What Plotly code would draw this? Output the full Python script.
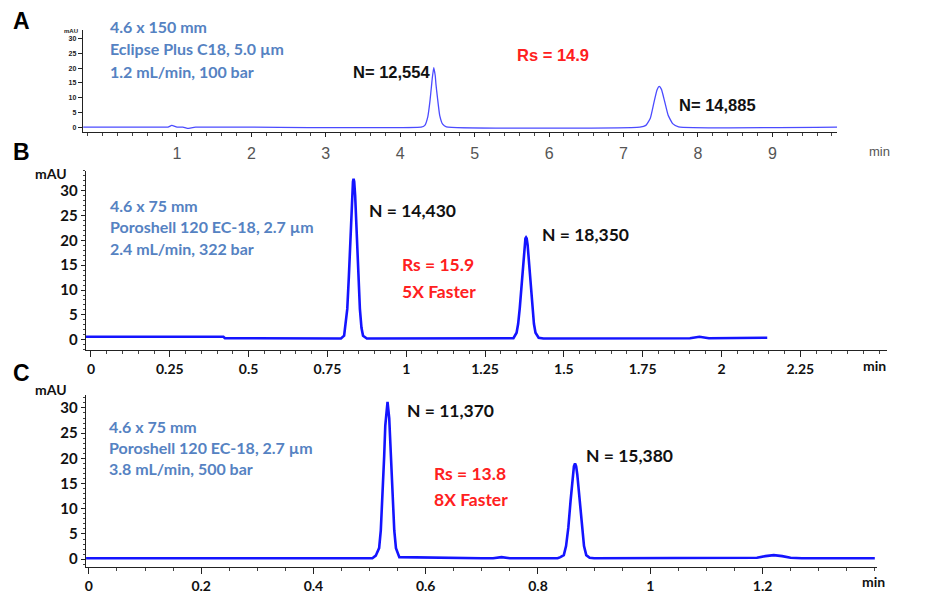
import plotly.graph_objects as go

W, H = 930, 594
def px(x): return x / W
def py(y): return 1 - y / H

# ---------------- data ----------------
# Panel A: 4.6 x 150 mm, Eclipse Plus C18
A_time = [-0.26, 0.80, 0.88, 0.93, 1.00, 1.08, 1.14, 1.25, 4.28, 4.33, 4.37, 4.40, 4.42, 4.43, 4.45, 4.47,
          4.48, 4.50, 4.53, 4.57, 4.62, 7.22, 7.30, 7.36, 7.41, 7.45, 7.48, 7.51, 7.55, 7.60, 7.66, 7.74, 9.87]
A_abs = [0.0, 0.0, 0.0, 0.6, 0.0, 0.0, -0.4, 0.0, 0.0, 0.6, 3.5, 9.0, 14.0, 16.5, 20.2, 17.5,
         14.5, 10.0, 4.0, 1.0, 0.1, 0.0, 0.6, 3.0, 8.5, 12.6, 13.8, 12.8, 9.0, 4.0, 1.2, 0.1, 0.0]

# Panel B: 4.6 x 75 mm, Poroshell 120, 2.4 mL/min
B_time = [-0.016, 0.42, 0.425, 0.78, 0.793, 0.803, 0.813, 0.818, 0.823, 0.828, 0.831, 0.833, 0.835, 0.838, 0.843,
          0.848, 0.853, 0.858, 0.863, 0.875, 1.33, 1.340, 1.350, 1.355, 1.360, 1.365, 1.370, 1.375, 1.378, 1.380,
          1.382, 1.385, 1.390, 1.395, 1.400, 1.405, 1.410, 1.420, 1.435, 1.90, 1.93, 1.96, 2.145]
B_abs = [0.6, 0.6, 0.3, 0.25, 0.25, 0.8, 6.2, 12.7, 21.3, 29.0, 31.8, 32.4, 31.8, 29.0, 21.3,
         12.7, 6.2, 2.4, 0.8, 0.25, 0.25, 0.3, 1.4, 3.2, 6.3, 10.6, 15.3, 19.1, 20.4, 20.6,
         20.4, 19.1, 15.3, 10.6, 6.3, 3.2, 1.4, 0.4, 0.25, 0.3, 0.6, 0.3, 0.4]

# Panel C: 4.6 x 75 mm, Poroshell 120, 3.8 mL/min
C_time = [-0.005, 0.50, 0.505, 0.511, 0.517, 0.520, 0.523, 0.526, 0.528, 0.529, 0.530, 0.532, 0.535, 0.538, 0.541,
          0.544, 0.547, 0.553, 0.70, 0.72, 0.735, 0.75, 0.77, 0.835, 0.840, 0.846, 0.850, 0.854, 0.858,
          0.862, 0.864, 0.866, 0.868, 0.870, 0.874, 0.878, 0.882, 0.886, 0.892, 0.90, 1.17, 1.19, 1.205, 1.22, 1.235,
          1.25, 1.27, 1.40]
C_abs = [0.2, 0.2, 0.2, 0.7, 2.2, 5.7, 12.0, 20.4, 26.5, 28.0, 29.5, 31.2, 28.0, 20.4, 12.0,
         5.7, 2.2, 0.4, 0.2, 0.2, 0.4, 0.2, 0.2, 0.2, 0.4, 0.8, 2.6, 6.2, 11.5,
         16.8, 18.4, 19.0, 18.4, 16.8, 11.5, 6.2, 2.6, 0.8, 0.3, 0.2, 0.2, 0.3, 0.6, 0.8, 0.6,
         0.3, 0.2, 0.2]

A_ticks = [1, 2, 3, 4, 5, 6, 7, 8, 9]
B_ticks = [0, 0.25, 0.5, 0.75, 1, 1.25, 1.5, 1.75, 2, 2.25]
C_ticks = [0, 0.2, 0.4, 0.6, 0.8, 1, 1.2]
Y_ticks = [0, 5, 10, 15, 20, 25, 30]

A_info = ["4.6 x 150 mm", "Eclipse Plus C18, 5.0 µm", "1.2 mL/min, 100 bar"]
B_info = ["4.6 x 75 mm", "Poroshell 120 EC-18, 2.7 µm", "2.4 mL/min, 322 bar"]
C_info = ["4.6 x 75 mm", "Poroshell 120 EC-18, 2.7 µm", "3.8 mL/min, 500 bar"]
A_notes = ["N= 12,554", "N= 14,885", "Rs = 14.9"]
B_notes = ["N = 14,430", "N = 18,350", "Rs = 15.9", "5X Faster"]
C_notes = ["N = 11,370", "N = 15,380", "Rs = 13.8", "8X Faster"]

# ---------------- figure ----------------
fig = go.Figure()
fig.add_trace(go.Scatter(x=A_time, y=A_abs, xaxis="x", yaxis="y", mode="lines",
                         line=dict(color="#4b4bff", width=1.3, shape="spline", smoothing=0.4),
                         showlegend=False, hoverinfo="skip"))
fig.add_trace(go.Scatter(x=B_time, y=B_abs, xaxis="x2", yaxis="y2", mode="lines",
                         line=dict(color="#1414ff", width=2.6, shape="linear"),
                         showlegend=False, hoverinfo="skip"))
fig.add_trace(go.Scatter(x=C_time, y=C_abs, xaxis="x3", yaxis="y3", mode="lines",
                         line=dict(color="#1414ff", width=2.6, shape="linear"),
                         showlegend=False, hoverinfo="skip"))

BLUE = "#5582c2"
RED = "#ff2020"
CAL = "Lato"
ARI = "Liberation Sans, Arial"

def xax(dom, rng, tickvals, minor, font, anchor, ticklen=5, standoff=0):
    return dict(domain=dom, range=rng, tickvals=tickvals, anchor=anchor,
                showline=True, linecolor="#222", linewidth=1.3, ticks="outside",
                ticklen=ticklen, tickwidth=1.2, tickcolor="#222", showgrid=False, zeroline=False,
                ticklabelstandoff=standoff,
                tickfont=font, minor=dict(dtick=minor, tick0=0, ticks="outside", ticklen=3,
                                          tickcolor="#444", showgrid=False))

def yax(dom, rng, font, anchor, minor=True):
    d = dict(domain=dom, range=rng, tickvals=Y_ticks, anchor=anchor,
             showline=True, linecolor="#222", linewidth=1.3, ticks="outside",
             ticklen=4, tickwidth=1, tickcolor="#222", showgrid=False, zeroline=False,
             tickfont=font)
    if minor:
        d["minor"] = dict(dtick=1, tick0=0, ticks="outside", ticklen=2, tickcolor="#444", showgrid=False)
    return d

fig.update_layout(
    width=W, height=H, autosize=False,
    margin=dict(l=0, r=0, t=0, b=0),
    paper_bgcolor="white", plot_bgcolor="white",
    xaxis=xax([px(82), px(837)], [-0.264, 9.87], A_ticks, 0.2,
              dict(family=ARI, size=16, color="#555"), "y", ticklen=4, standoff=3),
    yaxis=yax([py(133), py(30)], [-1.68, 33], dict(family=ARI, size=7, color="#222", weight=700), "x", minor=False),
    xaxis2=xax([px(85), px(887)], [-0.016, 2.525], B_ticks, 0.05,
               dict(family=CAL, size=14, color="#111", weight=700), "y2", ticklen=6),
    yaxis2=yax([py(352), py(172)], [-2, 34], dict(family=CAL, size=15, color="#111", weight=700), "x2"),
    xaxis3=xax([px(85), px(877)], [-0.0053, 1.404], C_ticks, 0.05,
               dict(family=CAL, size=14, color="#111", weight=700), "y3", ticklen=6),
    yaxis3=yax([py(571), py(398)], [-1.58, 32.5], dict(family=CAL, size=15, color="#111", weight=700), "x3"),
)

anns = []
def note(text, x, y, size, color, family, weight=400, xanchor="left"):
    anns.append(dict(text=text, x=px(x), y=py(y), xref="paper", yref="paper",
                     xanchor=xanchor, yanchor="middle", showarrow=False,
                     font=dict(family=family, size=size, color=color, weight=weight)))

# panel letters
note("A", 10, 21, 23, "#000", ARI, 700)
note("B", 10, 153, 23, "#000", ARI, 700)
note("C", 10, 376, 23, "#000", ARI, 700)

# panel A
note("mAU", 79, 31, 6, "#222", ARI, 700, xanchor="right")
for t, yy in zip(A_info, [27, 49, 72]):
    note(t, 107, yy, 16, BLUE, CAL, 700)
note(A_notes[0], 350, 72, 16.5, "#111", ARI, 700)
note(A_notes[1], 677, 106, 16.5, "#111", ARI, 700)
note(A_notes[2], 515, 55, 16.5, RED, ARI, 700)
note("min", 867, 153, 13, "#555", ARI, 400)

# panel B
note("mAU", 32, 175, 14, "#111", CAL, 700)
for t, yy in zip(B_info, [207, 228, 250]):
    note(t, 107, yy, 16, BLUE, CAL, 700)
note(B_notes[0], 366, 212, 17.5, "#111", CAL, 700)
note(B_notes[1], 540, 236, 17.5, "#111", CAL, 700)
note(B_notes[2], 399, 266, 17.5, RED, CAL, 700)
note(B_notes[3], 399, 293, 17.5, RED, CAL, 700)
note("min", 861, 368, 14, "#111", CAL, 700)

# panel C
note("mAU", 32, 392, 14, "#111", CAL, 700)
for t, yy in zip(C_info, [429, 451, 472]):
    note(t, 106, yy, 16, BLUE, CAL, 700)
note(C_notes[0], 404, 413, 17.5, "#111", CAL, 700)
note(C_notes[1], 584, 459, 17.5, "#111", CAL, 700)
note(C_notes[2], 431, 477, 17.5, RED, CAL, 700)
note(C_notes[3], 431, 503, 17.5, RED, CAL, 700)
note("min", 860, 585, 14, "#111", CAL, 700)

fig.update_layout(annotations=anns)
fig.write_html("out.html")
